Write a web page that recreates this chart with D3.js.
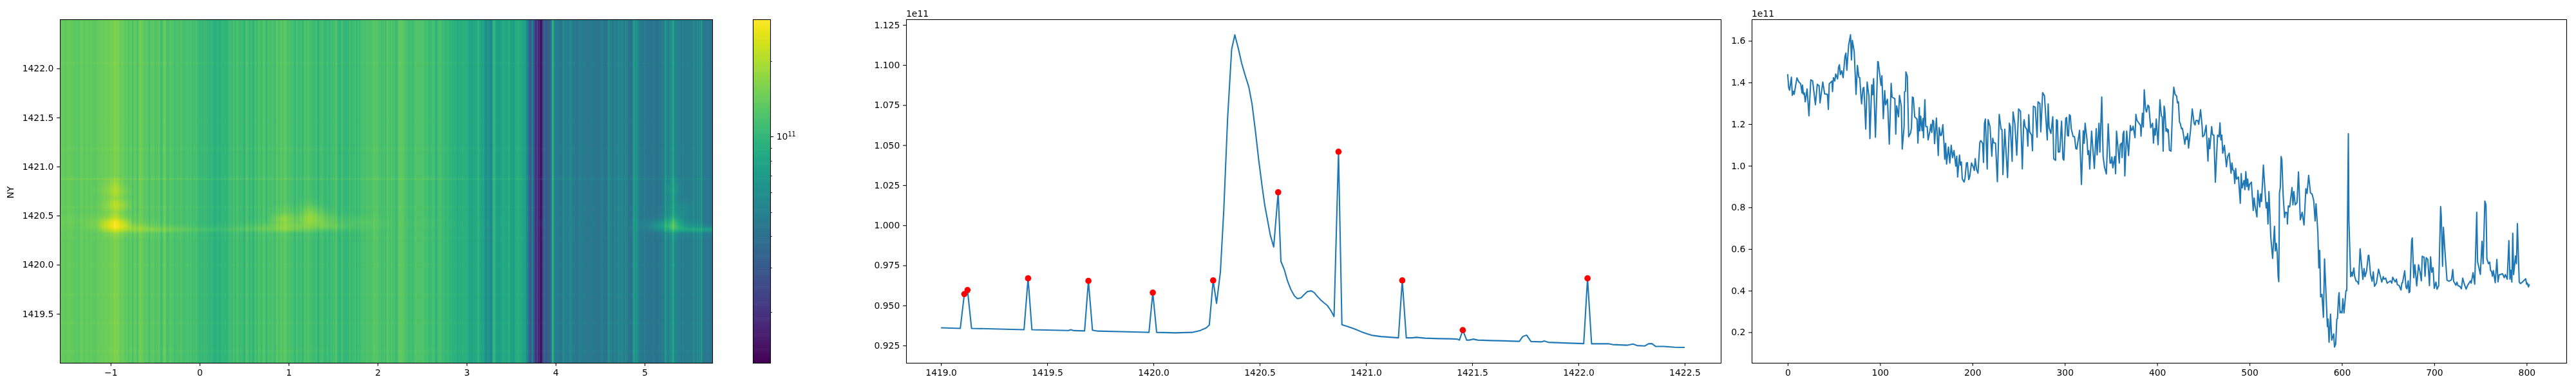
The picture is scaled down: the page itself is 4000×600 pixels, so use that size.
<!DOCTYPE html>
<html><head><meta charset="utf-8">
<script src="https://cdn.jsdelivr.net/npm/d3@7/dist/d3.min.js"></script>
<style>
html,body{margin:0;padding:0;background:#fff}
#wrap{position:relative;width:4000px;height:600px;overflow:hidden;background:#fff}
canvas{position:absolute}
svg{position:absolute;left:0;top:0}
text{font-family:"DejaVu Sans",sans-serif;fill:#000}
</style></head><body><div id="wrap"></div>
<script>
// ---------- spectrum (panel 2), units of 1e11 ----------
const specFreq=[1419.00,1419.091,1419.11,1419.125,1419.144,1419.391,1419.41,1419.428,1419.6,1419.611,1419.626,1419.676,1419.694,1419.713,1419.739,1419.979,1419.997,1420.015,1420.104,1420.182,1420.221,1420.248,1420.263,1420.281,1420.297,1420.315,1420.331,1420.349,1420.368,1420.383,1420.399,1420.415,1420.43,1420.449,1420.464,1420.48,1420.496,1420.511,1420.524,1420.535,1420.55,1420.566,1420.587,1420.6,1420.616,1420.631,1420.647,1420.663,1420.678,1420.694,1420.71,1420.725,1420.743,1420.757,1420.772,1420.788,1420.803,1420.819,1420.835,1420.85,1420.871,1420.887,1420.918,1420.95,1420.978,1421.004,1421.031,1421.07,1421.122,1421.153,1421.171,1421.19,1421.218,1421.237,1421.278,1421.344,1421.396,1421.43,1421.44,1421.456,1421.474,1421.487,1421.506,1421.526,1421.592,1421.657,1421.675,1421.722,1421.738,1421.756,1421.777,1421.827,1421.84,1421.858,1421.957,1422.025,1422.043,1422.062,1422.14,1422.161,1422.231,1422.257,1422.276,1422.312,1422.33,1422.346,1422.364,1422.401,1422.453,1422.5];
const specVal=[.9361,.9357,.9571,.9596,.9357,.9349,.9669,.9349,.9344,.9349,.9343,.9341,.9653,.9346,.934,.9332,.958,.9332,.9329,.9332,.9344,.936,.9378,.9656,.9513,.9707,1.0093,1.0665,1.1097,1.1188,1.1105,1.1012,1.0943,1.0862,1.0757,1.0587,1.0402,1.0248,1.0124,1.0047,.9939,.9865,1.0206,.9775,.9723,.9653,.9599,.956,.9542,.9547,.9568,.9587,.9591,.958,.9556,.9533,.9516,.9499,.9468,.9431,1.0459,.938,.9367,.9352,.9336,.9324,.9313,.9306,.9301,.9298,.9656,.9298,.9298,.9301,.9296,.9293,.9292,.929,.9284,.9346,.9284,.9284,.929,.9284,.9281,.9279,.9278,.9276,.9306,.9315,.9275,.9273,.9278,.927,.9265,.9262,.9669,.9261,.9261,.9256,.9252,.9259,.925,.9247,.9261,.9262,.9244,.9244,.9239,.9238];
// ---------- detected peaks (red dots) ----------
const peakFreq=[1419.11,1419.125,1419.41,1419.694,1419.997,1420.281,1420.587,1420.871,1421.171,1421.456,1422.043];
const peakVal=[.9571,.9596,.9669,.9653,.958,.9656,1.0206,1.0459,.9656,.9346,.9669];
const peakBase=[.9357,.9357,.9349,.9341,.9332,.945,.982,.941,.9298,.9284,.9262];
// ---------- profile along NX (panel 3), units of 1e11 ----------
const profIdx=[0,1,2,4,5,6,7,10,12,14,15.5,16,17,18,19,21,23,25,27,30,32,34,35,38,40,43,44,45,48,48.5,49.5,51,52,54,55,56,57,58.5,60,62,63,64,66,68,69,70,72,74,75.5,77,78,79.5,80,81.5,82.5,84.5,86,88,89,91,92,93,95,97.5,98,101,102,103.5,105,106,108,110,112,113,116,117,118,120,121,123,124,126,126.5,127.5,128,129.5,131,133,134,135,136,137.5,140,141,142.5,143,144,145.5,146.5,147,148.5,149.5,151,152,154,155,156,157,158,159,161,163,164,165.5,166.5,168,169.5,170,171,172,174,175.5,177,178.5,180,182,183,184,186,187,188,189,191,192,193.5,194.5,196,197,199,201,202,203,204.5,206,208,209,211,212,213,214,216,217,219,221,222,223,225,227,229,231,232,233,235,238,240,241,243,244,246,248,250,252,254,255.5,256,257,259,260,261,262,264,265,266,268,270,271,273,274,276,278,281,282,283,285,287,288,290,291,292,293,294.5,296.5,298,299,301,302,303,304,305,306,307,309,310.5,312,313,316,318,320,321,322,324,325,326,327,329,332,334,335,337,338,340,341.5,343,345,347,349,350,351,352,354,355,356,359,360,361.5,362,363,364,365,367,369,371,372,373,374,376,377,378,382,382.5,384,385,386,387.5,388.5,390,391,393,395,396,397,398,399,401,403,404.5,405.5,406.5,407.5,408.2,409.6,410.5,411.5,412,413.3,415,417,418,419.4,421,422,423,424.2,425,426.3,427.3,428,430,431,432,433,434,436,438,440,441,442,444,445,447,448.6,449.3,451,453,455,456,457,459,460,461.4,463,465.4,467,468,469,470,471,472.8,475,476.3,478,480,481,482,483,484,485,486,488,490,491,492,494,495,496,497,498,499,500,502,504,505,506,508,509,511,512,513,515,516,518,519,520,521,522,523,525,527,528,529,530,531,531.7,532.4,533.3,534.2,535,536.5,538,539,540.7,541,542,543.5,546,547,548,549.5,551.4,553,555,557,559,561,562.3,564,566,567.7,569.5,571,572,574,575,576,577,578.4,580,581.2,584.3,585,586.1,587.7,589,591.1,592,593.3,594.5,595.2,596.4,597,598,599,600.1,601,602.3,604.4,605.3,607,607.6,609.5,610.6,611.3,613,613.7,615.3,617,618,619.7,622.7,624,625,626.7,628.5,629.2,631,632.7,634,635.3,637.4,639.7,643.2,644.8,645.7,647.4,649,652.5,654,655,657,657.8,659,660,662,664,665,665.7,668,669.4,670.4,671.8,672.7,673.6,675.5,676.2,677.8,679,681,683,684.6,686,687,689,690,691.3,693,694.8,696,697.3,698.7,700,701.8,703,704.8,706.9,707.6,709,709.9,711.7,713.8,716,718.7,720,721,723.4,724.5,725.7,727.6,729.4,730.8,732.2,734.5,736.2,739.2,740,742,743.8,746,746.9,748.2,749.9,751.7,752.9,754.8,756,757,758.7,760,761,762,763,764,766,767.8,769,770.3,774,775.7,777,779,780.8,782,783,784,785,785.9,788,789,790,792,793.1,794.7,799,800,800.8,802,803];
const profVal=[1.44,1.376,1.363,1.425,1.338,1.358,1.343,1.422,1.403,1.394,1.35,1.387,1.343,1.35,1.307,1.369,1.24,1.413,1.407,1.293,1.391,1.384,1.302,1.402,1.345,1.343,1.271,1.394,1.407,1.356,1.423,1.407,1.441,1.417,1.472,1.485,1.438,1.456,1.423,1.526,1.541,1.459,1.58,1.629,1.508,1.602,1.549,1.343,1.482,1.425,1.423,1.322,1.297,1.372,1.376,1.176,1.402,1.333,1.13,1.389,1.341,1.418,1.137,1.5,1.5,1.386,1.432,1.226,1.361,1.293,1.319,1.104,1.396,1.33,1.322,1.152,1.288,1.235,1.338,1.286,1.08,1.188,1.355,1.358,1.451,1.43,1.139,1.157,1.183,1.33,1.327,1.235,1.224,1.109,1.279,1.167,1.238,1.168,1.227,1.135,1.317,1.188,1.188,1.124,1.168,1.199,1.16,1.219,1.214,1.106,1.229,1.049,1.183,1.145,1.147,1.197,1.085,1.031,1.108,1.008,1.09,1.013,1.098,1.039,1.073,.998,1.046,.946,1.051,1.003,1.018,.936,.922,.941,1.013,1.015,.933,.946,1.013,.993,.977,1.034,.982,.964,1.111,1.121,1.108,1.016,1.204,1.224,.984,1.221,1.188,1.046,1.132,1.111,1.108,.923,1.247,1.176,1.173,.957,1.176,.943,1.204,1.188,1.021,1.258,1.199,1.051,1.273,1.262,.985,1.209,1.221,1.188,1.173,1.094,1.245,1.163,1.147,1.072,1.286,1.281,1.137,1.307,1.299,1.163,1.351,1.336,1.124,1.297,1.183,1.155,1.235,1.034,1.026,1.221,1.217,1.065,1.067,1.214,1.034,1.027,1.227,1.232,1.145,1.143,1.245,1.24,1.178,1.14,1.14,1.082,1.08,1.17,.91,1.168,1.108,1.204,1.127,1.054,1.072,.984,1.166,.987,1.178,1.052,1.204,1.065,1.33,1.044,.993,.96,1.201,1.013,1.013,1.042,.99,1.044,.962,1.166,1.013,1.101,1.109,1.039,1.152,1.166,.951,1.166,1.049,1.193,1.17,1.173,1.19,1.135,1.247,1.219,1.193,1.142,1.252,1.186,1.365,1.271,1.258,1.291,1.286,1.183,1.204,1.109,1.178,1.147,1.224,1.101,1.317,1.24,1.235,1.07,1.286,1.271,1.166,1.178,1.16,1.173,1.075,1.07,1.312,1.377,1.343,1.335,1.302,1.307,1.209,1.204,1.178,1.18,1.163,1.103,1.139,1.127,1.155,1.085,1.163,1.273,1.204,1.196,1.217,1.217,1.199,1.269,1.194,1.139,1.147,1.194,1.022,1.132,1.082,1.188,1.149,1.147,.921,1.147,1.139,1.206,1.124,1.147,1.06,1.098,.995,1.044,1.06,.964,1.013,.979,.977,.915,.987,.936,.946,.82,.962,.893,.929,.885,.972,.9,.936,.883,.91,.921,.785,.845,.807,.754,.881,.802,.864,.828,1.003,.931,.797,.823,.72,.876,.776,.658,.555,.709,.591,.627,.58,.467,.443,.869,.895,1.044,1.029,.849,.751,.776,.774,.72,.807,.802,.895,.812,.876,.812,.823,.97,.74,.776,.715,.89,.867,.954,.869,.864,.833,.735,.817,.679,.509,.593,.37,.382,.272,.552,.227,.263,.152,.287,.162,.192,.129,.144,.263,.265,.37,.39,.293,.299,.293,.361,.293,.4,.4,1.154,.735,.467,.488,.47,.509,.47,.447,.442,.431,.601,.454,.506,.467,.493,.568,.57,.478,.445,.49,.421,.436,.503,.441,.467,.455,.46,.436,.447,.436,.464,.447,.442,.455,.429,.424,.403,.438,.438,.495,.416,.409,.447,.39,.395,.642,.653,.462,.524,.423,.524,.49,.447,.565,.56,.469,.558,.55,.424,.562,.488,.51,.411,.441,.407,.424,.804,.756,.517,.704,.581,.45,.445,.452,.501,.445,.426,.441,.424,.421,.409,.46,.436,.407,.426,.447,.436,.486,.431,.776,.539,.514,.478,.637,.529,.83,.812,.552,.529,.537,.496,.493,.469,.496,.438,.55,.442,.476,.481,.462,.477,.455,.64,.455,.498,.441,.676,.477,.567,.529,.722,.441,.434,.438,.457,.431,.436,.418,.431];
// ---------- localised emission on the map, added value in units of 1e11 ----------
const emisX=[-1.35,-1.15,-1.05,-.95,-.85,-.75,-.55,-.35,0,.4,.75,.95,1.1,1.25,1.4,1.55,1.8,2.1,4.7,5.0,5.2,5.33,5.45,5.6,5.76];
const emisY=[1420.26,1420.32,1420.36,1420.39,1420.43,1420.48,1420.53,1420.58,1420.62,1420.68,1420.74,1420.78,1420.83,1420.9];
const emisTable=[
[0,0,0,0,0,0,0,0,0,0,0,0,0,0,0,0,0,0,0,0,0,0,0,0,0],
[0,0,.1,.25,.15,.08,.05,.02,0,0,.02,.04,.03,.02,0,0,0,0,0,0,.02,.08,.05,.04,.03],
[.02,.12,.55,1,.7,.5,.42,.3,.14,.14,.28,.42,.36,.3,.22,.14,.06,0,0,.03,.2,.5,.4,.35,.3],
[.03,.22,.85,1.35,.95,.4,.2,.1,.03,.05,.2,.48,.42,.48,.42,.28,.1,.02,0,.05,.3,.65,.25,.1,.06],
[.06,.22,.75,1.3,.75,.15,.04,0,0,0,.05,.42,.3,.62,.42,.18,.14,.03,0,.04,.18,.55,.14,.03,0],
[.05,.1,.25,.6,.25,.04,0,0,0,0,0,.48,.28,.68,.35,.12,.08,0,0,0,.04,.2,.08,0,0],
[0,.02,.08,.25,.1,0,0,0,0,0,0,.14,.14,.48,.18,.03,0,0,0,0,0,.12,.08,0,0],
[0,.02,.16,.5,.3,0,0,0,0,0,0,.07,.07,.28,.06,0,0,0,0,0,0,.1,.08,0,0],
[0,.02,.2,.6,.38,.02,0,0,0,0,0,0,.02,.12,0,0,0,0,0,0,0,.1,.06,0,0],
[0,0,.1,.25,.1,0,0,0,0,0,0,0,0,.02,0,0,0,0,0,0,0,.05,0,0,0],
[0,.02,.18,.48,.24,0,0,0,0,0,0,0,0,0,0,0,0,0,0,0,0,.12,0,0,0],
[0,.02,.15,.45,.16,0,0,0,0,0,0,0,0,0,0,0,0,0,0,0,0,.12,0,0,0],
[0,0,.1,.28,.05,0,0,0,0,0,0,0,0,0,0,0,0,0,0,0,0,.08,0,0,0],
[0,0,0,0,0,0,0,0,0,0,0,0,0,0,0,0,0,0,0,0,0,0,0,0,0]];
// ---------- ticks and image extent ----------
const mapXTicks=[-1,0,1,2,3,4,5];
const mapYTicks=[1419.5,1420,1420.5,1421,1421.5,1422];
const specXTicks=[1419,1419.5,1420,1420.5,1421,1421.5,1422,1422.5];
const specYTicks=[.925,.95,.975,1,1.025,1.05,1.075,1.1,1.125];
const profXTicks=[0,100,200,300,400,500,600,700,800];
const profYTicks=[.2,.4,.6,.8,1,1.2,1.4,1.6];
const cbMajor=[1];
const cbMinor=[.2,.3,.4,.5,.6,.7,.8,.9,2];
const colorDomain=[.125,2.94];
const nCols=804,nRows=229;

const yTop=30,yBottom=564,tickLen=4.86,tickPad=4.86;
const wrap=d3.select("#wrap");
const mapBox={l:93,r:1106}, cbBox={l:1169,r:1196}, specBox={l:1407,r:2672}, profBox={l:2720,r:3985};

const color=d3.scaleSequentialLog(d3.interpolateViridis).domain(colorDomain);
const mapX=d3.scaleLinear().domain([-1.57,5.76]).range([mapBox.l,mapBox.r]);
const mapY=d3.scaleLinear().domain([1419,1422.5]).range([yBottom,yTop]);
const specX=d3.scaleLinear().domain([1418.836,1422.67]).range([specBox.l,specBox.r]);
const specY=d3.scaleLinear().domain([.9142,1.1285]).range([yBottom,yTop]);
const profX=d3.scaleLinear().domain([-39,843]).range([profBox.l,profBox.r]);
const profY=d3.scaleLinear().domain([.053,1.7035]).range([yBottom,yTop]);

// heat map: one image pixel per data cell, smoothed when scaled up as in the reference
const colIdx=d3.scaleLinear().domain([0,nCols]).range(mapX.domain());
const rowIdx=d3.scaleLinear().domain([0,nRows]).range([1422.5,1419]);
const prof=d3.scaleLinear().domain(profIdx).range(profVal);
const rowGain=new Float64Array(nRows).fill(1);
peakFreq.forEach((f,k)=>{rowGain[Math.floor(rowIdx.invert(f))]=peakVal[k]/peakBase[k];});
const cv=wrap.append("canvas").attr("width",nCols).attr("height",nRows)
  .style("left",mapBox.l+"px").style("top",yTop+"px")
  .style("width",(mapBox.r-mapBox.l)+"px").style("height",(yBottom-yTop)+"px");
const ctx=cv.node().getContext("2d");
const img=ctx.createImageData(nCols,nRows);
const rowScales=emisTable.map(r=>d3.scaleLinear().domain(emisX).range(r).clamp(true));
for(let i=0;i<nCols;i++){
  const x=colIdx(i+.5), base=prof(i);
  const ey=d3.scaleLinear().domain(emisY).range(rowScales.map(s=>s(x))).clamp(true);
  for(let j=0;j<nRows;j++){
    const c=d3.rgb(color(base*rowGain[j]+ey(rowIdx(j+.5))));
    const p=(j*nCols+i)*4;
    img.data[p]=c.r;img.data[p+1]=c.g;img.data[p+2]=c.b;img.data[p+3]=255;
  }
}
ctx.putImageData(img,0,0);

const svg=wrap.append("svg").attr("width",4000).attr("height",600);

function axes(box,xs,ys,xt,yt,xf,yf){
  const g=svg.append("g");
  g.append("g").attr("transform",`translate(0,${yBottom})`)
    .call(d3.axisBottom(xs).tickValues(xt).tickFormat(xf).tickSize(tickLen).tickPadding(tickPad).tickSizeOuter(0));
  g.append("g").attr("transform",`translate(${box.l},0)`)
    .call(d3.axisLeft(ys).tickValues(yt).tickFormat(yf).tickSize(tickLen).tickPadding(tickPad).tickSizeOuter(0));
  g.selectAll(".domain").remove();
  g.selectAll(".tick line").attr("stroke","#000").attr("stroke-width",1.1);
  g.selectAll(".tick text").attr("font-family",'"DejaVu Sans",sans-serif').attr("font-size",13.9).attr("fill","#000");
  return g;
}
function drawFrame(box){
  svg.append("rect").attr("x",box.l+.5).attr("y",yTop+.5).attr("width",box.r-box.l).attr("height",yBottom-yTop)
    .attr("fill","none").attr("stroke","#000").attr("stroke-width",1.1);
}

// panel 1
axes(mapBox,mapX,mapY,mapXTicks,mapYTicks,d3.format("d"),d3.format(".1f"));
drawFrame(mapBox);
svg.append("text").attr("transform",`translate(21,299) rotate(-90)`).attr("text-anchor","middle")
  .attr("font-size",13.9).text("NY");

// colour bar
const cbY=d3.scaleLog().domain(colorDomain).range([yBottom,yTop]);
const cbSteps=d3.range(256);
const cbStep=d3.scaleLinear().domain([0,256]).range([yBottom,yTop]);
svg.append("g").selectAll("rect").data(cbSteps).join("rect")
  .attr("x",cbBox.l).attr("width",cbBox.r-cbBox.l)
  .attr("y",d=>cbStep(d+1)).attr("height",d=>cbStep(d)-cbStep(d+1)+.6)
  .attr("fill",d=>color(cbY.invert(cbStep(d+.5))));
drawFrame(cbBox);
svg.append("g").selectAll("line").data(cbMinor).join("line")
  .attr("x1",cbBox.r).attr("x2",cbBox.r+2.8).attr("y1",d=>Math.round(cbY(d))+.5).attr("y2",d=>Math.round(cbY(d))+.5)
  .attr("stroke","#000").attr("stroke-width",.8);
svg.append("g").selectAll("line").data(cbMajor).join("line")
  .attr("x1",cbBox.r).attr("x2",cbBox.r+tickLen).attr("y1",d=>Math.round(cbY(d))+.5).attr("y2",d=>Math.round(cbY(d))+.5)
  .attr("stroke","#000").attr("stroke-width",1.1);
const lab=svg.append("g").selectAll("text").data(cbMajor).join("text")
  .attr("x",cbBox.r+tickLen+tickPad).attr("y",d=>cbY(d)+5).attr("font-size",13.9);
lab.append("tspan").text("10");
lab.append("tspan").attr("dy",-5).attr("font-size",9.7).text("11");

// panel 2
axes(specBox,specX,specY,specXTicks,specYTicks,d3.format(".1f"),d3.format(".3f"));
const lineSpec=d3.line().x((d,i)=>specX(specFreq[i])).y(d=>specY(d));
svg.append("path").datum(specVal).attr("d",lineSpec).attr("fill","none").attr("stroke","#1f77b4")
  .attr("stroke-width",2.08).attr("stroke-linejoin","round");
svg.append("g").selectAll("circle").data(peakVal).join("circle")
  .attr("cx",(d,i)=>specX(peakFreq[i])).attr("cy",d=>specY(d)).attr("r",4.85).attr("fill","#f00");
drawFrame(specBox);
svg.append("text").attr("x",specBox.l).attr("y",26).attr("font-size",13.9).text("1e11");

// panel 3
axes(profBox,profX,profY,profXTicks,profYTicks,d3.format("d"),d3.format(".1f"));
const lineProf=d3.line().x((d,i)=>profX(profIdx[i])).y(d=>profY(d));
svg.append("path").datum(profVal).attr("d",lineProf).attr("fill","none").attr("stroke","#1f77b4")
  .attr("stroke-width",2.08).attr("stroke-linejoin","round");
drawFrame(profBox);
svg.append("text").attr("x",profBox.l).attr("y",26).attr("font-size",13.9).text("1e11");
if(profIdx.length!==profVal.length||specFreq.length!==specVal.length) throw new Error("LEN "+profIdx.length+" "+profVal.length+" "+specFreq.length+" "+specVal.length);
</script></body></html>
